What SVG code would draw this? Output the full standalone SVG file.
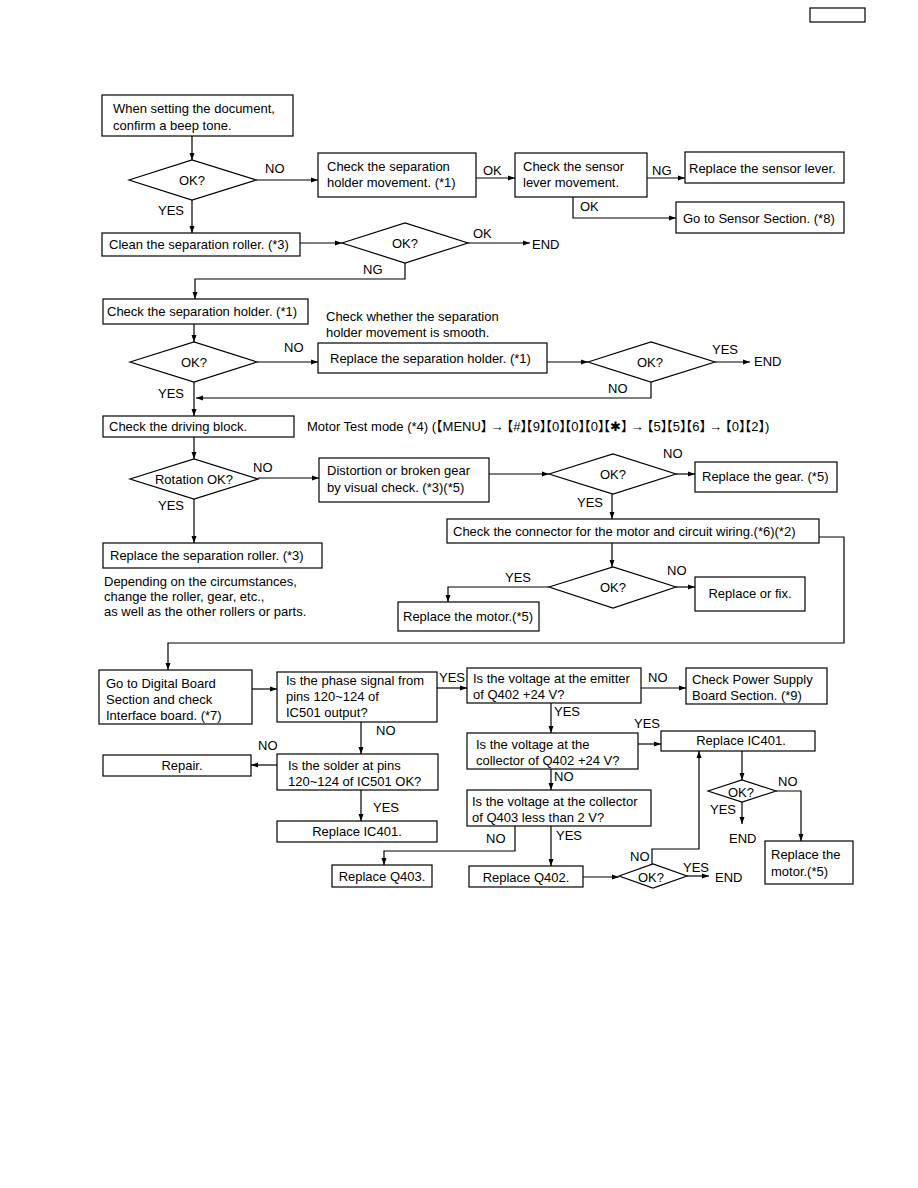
<svg xmlns="http://www.w3.org/2000/svg" width="918" height="1188" viewBox="0 0 918 1188">
<style>
.b{fill:#fff;stroke:#000;stroke-width:1.2}
.l{fill:none;stroke:#000;stroke-width:1.2}
text{font-family:"Liberation Sans",Arial,"Noto Sans CJK JP",sans-serif;font-size:13px;fill:#000}
.m{text-anchor:middle}
</style>
<defs>
<marker id="a" markerUnits="userSpaceOnUse" markerWidth="7" markerHeight="6" refX="7" refY="3" orient="auto"><path d="M0,0.5 L7,3 L0,5.5 z" fill="#000"/></marker>
</defs>
<rect width="918" height="1188" fill="#fff"/>
<rect x="810" y="8" width="55" height="14" class="b"/>

<g id="connectors" class="l" marker-end="url(#a)">
<path d="M192,136 V160"/>
<path d="M256,180 H318"/>
<path d="M476,178 H515"/>
<path d="M647,178 H685"/>
<path d="M573,197 V218 H676"/>
<path d="M192,200 V233"/>
<path d="M300,243 H342"/>
<path d="M468,243 H530"/>
<path d="M405,263 V279 H195 V299"/>
<path d="M194,324 V342"/>
<path d="M257,362 H318"/>
<path d="M547,362 H588"/>
<path d="M715,362 H750"/>
<path d="M651,382 V398 H196"/>
<path d="M194,382 V416"/>
<path d="M194,437 V459"/>
<path d="M258,478 H319"/>
<path d="M194,499 V543"/>
<path d="M489,474 H549"/>
<path d="M676,474 H695"/>
<path d="M612,494 V519"/>
<path d="M612,543 V567"/>
<path d="M549,587 H448 V602"/>
<path d="M676,587 H695"/>
<path d="M819,537 H844 V643 H168 V670"/>
<path d="M252,689 H277"/>
<path d="M437,688 H467"/>
<path d="M361,722 V754"/>
<path d="M277,765 H251"/>
<path d="M361,790 V821"/>
<path d="M641,688 H686"/>
<path d="M551,703 V733"/>
<path d="M638,744 H661"/>
<path d="M551,769 V790"/>
<path d="M515,826 V851 H384 V865"/>
<path d="M551,826 V866"/>
<path d="M583,877 H619"/>
<path d="M687,876 H709"/>
<path d="M652,864 V849 H699 V751"/>
<path d="M742,751 V780"/>
<path d="M776,791 H801 V841"/>
<path d="M742,802 V824"/>
</g>

<g id="labels">
<text x="265" y="173">NO</text>
<text x="483" y="175">OK</text>
<text x="652" y="175">NG</text>
<text x="580" y="211">OK</text>
<text x="158" y="215">YES</text>
<text x="473" y="238">OK</text>
<text x="532" y="249">END</text>
<text x="363" y="274">NG</text>
<text x="284" y="352">NO</text>
<text x="712" y="354">YES</text>
<text x="754" y="366">END</text>
<text x="608" y="393">NO</text>
<text x="158" y="398">YES</text>
<text x="253" y="472">NO</text>
<text x="158" y="510">YES</text>
<text x="663" y="458">NO</text>
<text x="577" y="507">YES</text>
<text x="505" y="582">YES</text>
<text x="667" y="575">NO</text>
<text x="439" y="682">YES</text>
<text x="376" y="735">NO</text>
<text x="258" y="750">NO</text>
<text x="373" y="812">YES</text>
<text x="648" y="682">NO</text>
<text x="554" y="716">YES</text>
<text x="634" y="728">YES</text>
<text x="554" y="781">NO</text>
<text x="486" y="843">NO</text>
<text x="556" y="840">YES</text>
<text x="683" y="872">YES</text>
<text x="715" y="882">END</text>
<text x="630" y="861">NO</text>
<text x="778" y="786">NO</text>
<text x="710" y="814">YES</text>
<text x="729" y="843">END</text>
</g>

<g id="n1"><rect x="102" y="95" width="191" height="41" class="b"/><text x="113" y="113">When setting the document,</text><text x="113" y="130">confirm a beep tone.</text></g>
<g id="d1"><polygon points="129,180 192,160 256,180 192,200" class="b"/><text x="192" y="185" class="m">OK?</text></g>
<g id="n2"><rect x="318" y="153" width="158" height="44" class="b"/><text x="327" y="171">Check the separation</text><text x="327" y="187">holder movement. (*1)</text></g>
<g id="n3"><rect x="515" y="153" width="132" height="44" class="b"/><text x="523" y="171">Check the sensor</text><text x="523" y="187">lever movement.</text></g>
<g id="n4"><rect x="685" y="152" width="159" height="31" class="b"/><text x="689" y="173">Replace the sensor lever.</text></g>
<g id="n5"><rect x="676" y="202" width="168" height="31" class="b"/><text x="683" y="223">Go to Sensor Section. (*8)</text></g>
<g id="n6"><rect x="102" y="233" width="198" height="23" class="b"/><text x="109" y="249">Clean the separation roller. (*3)</text></g>
<g id="d2"><polygon points="342,243 405,223 468,243 405,263" class="b"/><text x="405" y="248" class="m">OK?</text></g>
<g id="n7"><rect x="103" y="299" width="205" height="25" class="b"/><text x="107" y="316">Check the separation holder. (*1)</text></g>
<g id="note1"><text x="326" y="321">Check whether the separation</text><text x="326" y="337">holder movement is smooth.</text></g>
<g id="d3"><polygon points="130,362 194,342 257,362 194,382" class="b"/><text x="194" y="367" class="m">OK?</text></g>
<g id="n8"><rect x="318" y="343" width="229" height="30" class="b"/><text x="330" y="363">Replace the separation holder. (*1)</text></g>
<g id="d4"><polygon points="588,362 651,342 715,362 651,382" class="b"/><text x="650" y="367" class="m">OK?</text></g>
<g id="n9"><rect x="103" y="416" width="191" height="21" class="b"/><text x="109" y="431">Check the driving block.</text></g>
<g id="note2"><text x="307" y="431">Motor Test mode (*4) (【MENU】<tspan dx="-3.3">→</tspan><tspan dx="-3.3">【</tspan>#】<tspan dx="-7.4">【</tspan>9】<tspan dx="-7.4">【</tspan>0】<tspan dx="-7.4">【</tspan>0】<tspan dx="-7.4">【</tspan>0】<tspan dx="-7.4">【</tspan>✱】<tspan dx="-3.3">→</tspan><tspan dx="-3.3">【</tspan>5】<tspan dx="-7.4">【</tspan>5】<tspan dx="-7.4">【</tspan>6】<tspan dx="-3.3">→</tspan><tspan dx="-3.3">【</tspan>0】<tspan dx="-7.4">【</tspan>2】)</text></g>
<g id="d5"><polygon points="130,479 194,459 258,479 194,499" class="b"/><text x="194" y="484" class="m">Rotation OK?</text></g>
<g id="n10"><rect x="319" y="458" width="170" height="44" class="b"/><text x="327" y="475">Distortion or broken gear</text><text x="327" y="492">by visual check. (*3)(*5)</text></g>
<g id="d6"><polygon points="549,474 613,454 676,474 613,494" class="b"/><text x="613" y="479" class="m">OK?</text></g>
<g id="n11"><rect x="695" y="462" width="142" height="30" class="b"/><text x="702" y="481">Replace the gear. (*5)</text></g>
<g id="n12"><rect x="447" y="519" width="372" height="24" class="b"/><text x="453" y="536">Check the connector for the motor and circuit wiring.(*6)(*2)</text></g>
<g id="d7"><polygon points="549,587 613,567 676,587 613,608" class="b"/><text x="613" y="592" class="m">OK?</text></g>
<g id="n13"><rect x="398" y="602" width="141" height="29" class="b"/><text x="403" y="621">Replace the motor.(*5)</text></g>
<g id="n14"><rect x="695" y="577" width="110" height="34" class="b"/><text x="750" y="598" class="m">Replace or fix.</text></g>
<g id="n15"><rect x="103" y="543" width="219" height="25" class="b"/><text x="110" y="560">Replace the separation roller. (*3)</text></g>
<g id="note3"><text x="104" y="586">Depending on the circumstances,</text><text x="104" y="601">change the roller, gear, etc.,</text><text x="104" y="616">as well as the other rollers or parts.</text></g>
<g id="n16"><rect x="99" y="670" width="153" height="54" class="b"/><text x="106" y="688">Go to Digital Board</text><text x="106" y="704">Section and check</text><text x="106" y="720">Interface board. (*7)</text></g>
<g id="n17"><rect x="277" y="672" width="160" height="50" class="b"/><text x="286" y="685">Is the phase signal from</text><text x="286" y="701">pins 120~124 of</text><text x="286" y="717">IC501 output?</text></g>
<g id="n18"><rect x="467" y="668" width="174" height="35" class="b"/><text x="473" y="683">Is the voltage at the emitter</text><text x="473" y="699">of Q402 +24 V?</text></g>
<g id="n19"><rect x="686" y="668" width="141" height="36" class="b"/><text x="692" y="684">Check Power Supply</text><text x="692" y="700">Board Section. (*9)</text></g>
<g id="n20"><rect x="277" y="754" width="161" height="36" class="b"/><text x="288" y="770">Is the solder at pins</text><text x="288" y="786">120~124 of IC501 OK?</text></g>
<g id="n21"><rect x="103" y="755" width="148" height="21" class="b"/><text x="182" y="770" class="m">Repair.</text></g>
<g id="n22"><rect x="277" y="821" width="160" height="21" class="b"/><text x="357" y="836" class="m">Replace IC401.</text></g>
<g id="n23"><rect x="467" y="733" width="171" height="36" class="b"/><text x="476" y="749">Is the voltage at the</text><text x="476" y="765">collector of Q402 +24 V?</text></g>
<g id="n24"><rect x="661" y="731" width="154" height="20" class="b"/><text x="741" y="745" class="m">Replace IC401.</text></g>
<g id="d8"><polygon points="708,791 742,780 776,791 742,802" class="b"/><text x="741" y="797" class="m">OK?</text></g>
<g id="n25"><rect x="467" y="790" width="184" height="36" class="b"/><text x="472" y="806">Is the voltage at the collector</text><text x="472" y="822">of Q403 less than 2 V?</text></g>
<g id="n26"><rect x="332" y="865" width="100" height="22" class="b"/><text x="382" y="881" class="m">Replace Q403.</text></g>
<g id="n27"><rect x="469" y="866" width="114" height="21" class="b"/><text x="526" y="882" class="m">Replace Q402.</text></g>
<g id="d9"><polygon points="619,876 653,864 687,876 653,888" class="b"/><text x="651" y="882" class="m">OK?</text></g>
<g id="n28"><rect x="765" y="841" width="88" height="43" class="b"/><text x="771" y="859">Replace the</text><text x="771" y="876">motor.(*5)</text></g>
</svg>
